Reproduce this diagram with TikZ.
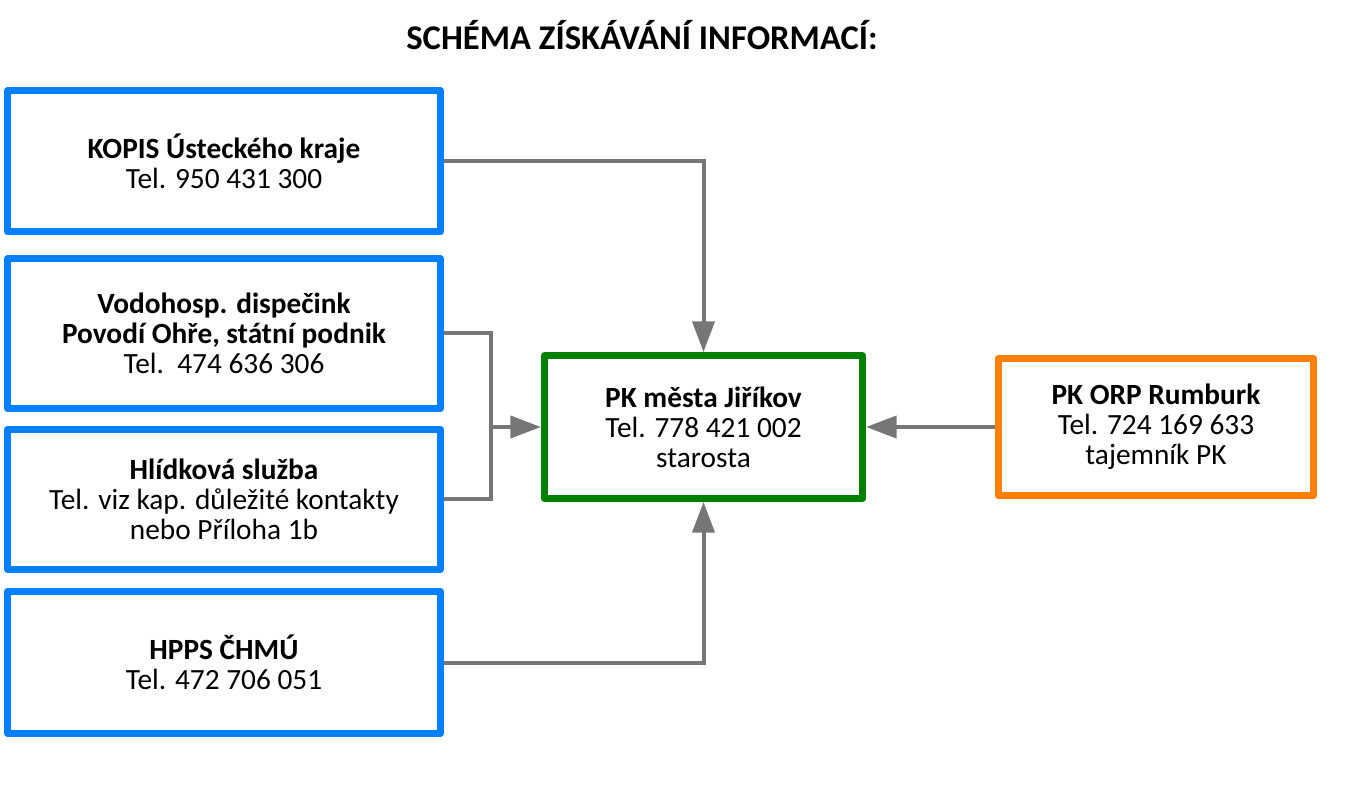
\documentclass[tikz,border=0pt]{standalone}
\usepackage{fontspec}
\setmainfont{Carlito}
\usetikzlibrary{positioning,arrows.meta}

\definecolor{boxblue}{RGB}{0,128,255}
\definecolor{boxgreen}{RGB}{0,128,0}
\definecolor{boxorange}{RGB}{255,128,0}
\definecolor{linegray}{RGB}{118,118,118}

\tikzset{
    infobox/.style={draw, line width=5.25pt, line join=round, fill=white,
        align=center, inner sep=0pt, font=\fontsize{22}{22.5}\selectfont},
    srcbox/.style={infobox, draw=boxblue, minimum width=324.75pt},
    link/.style={draw=linegray, line width=3pt},
    conn/.style={link, -{Triangle[length=23pt,width=16.5pt]}},
}

\begin{document}
\begin{tikzpicture}[x=0.75pt,y=-0.75pt]
    \useasboundingbox (0,0) rectangle (1360,787);

    \node (title) at (642,35) {\fontsize{26}{30}\selectfont\bfseries SCHÉMA ZÍSKÁVÁNÍ INFORMACÍ:};

    % zdroje
    \node [srcbox, minimum height=105.75pt] (kopis) at (224,161)
        {\textbf{KOPIS Ústeckého kraje}\\Tel. 950 431 300};
    \node [srcbox, minimum height=112.5pt, below=15pt of kopis] (vodo)
        {\textbf{Vodohosp. dispečink}\\\textbf{Povodí Ohře, státní podnik}\\Tel.\ \ 474 636 306};
    \node [srcbox, minimum height=105pt, below=10.5pt of vodo] (hlid)
        {\textbf{Hlídková služba}\\Tel. viz kap. důležité kontakty\\nebo Příloha 1b};
    \node [srcbox, minimum height=106.5pt, below=11.25pt of hlid] (hpps)
        {\textbf{HPPS ČHMÚ}\\Tel. 472 706 051};

    % krizove stabu
    \node [infobox, draw=boxgreen, minimum width=238.5pt, minimum height=107.25pt] (jirikov) at (703.5,427)
        {\textbf{PK města Jiříkov}\\Tel. 778 421 002\\starosta};
    \node [infobox, draw=boxorange, minimum width=236.25pt, minimum height=102.75pt, right=96.75pt of jirikov] (orp)
        {\textbf{PK ORP Rumburk}\\Tel. 724 169 633\\tajemník PK};

    \coordinate (join) at (491,427);

    \draw [conn] (kopis.east) -| (jirikov.north);
    \draw [link] (vodo.east) -| (join) |- (hlid.east);
    \draw [conn] (join) -- (jirikov.west);
    \draw [conn] (hpps.east) -| (jirikov.south);
    \draw [conn] (orp.west) -- (jirikov.east);
\end{tikzpicture}
\end{document}
